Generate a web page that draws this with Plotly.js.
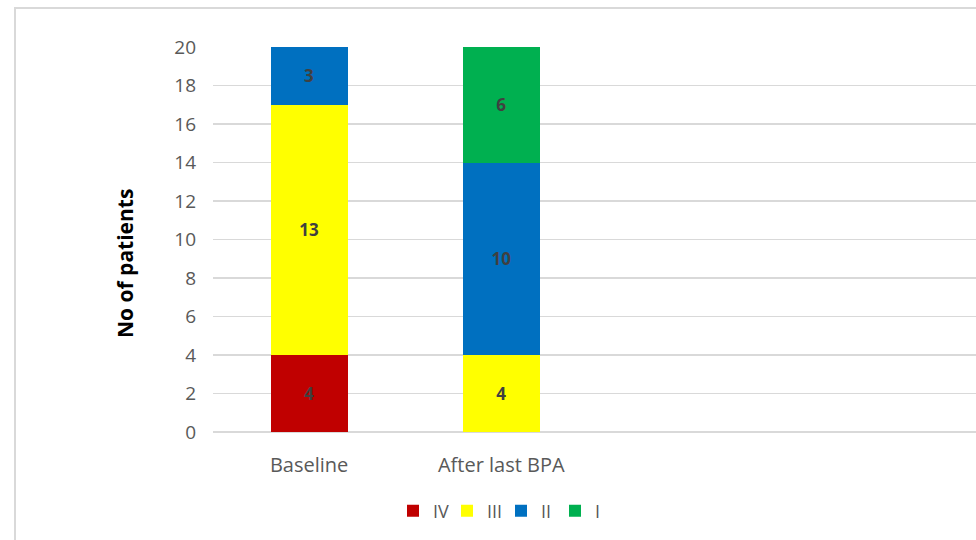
<!DOCTYPE html>
<html>
<head>
<meta charset="utf-8">
<script src="https://cdn.plot.ly/plotly-3.0.1.min.js"></script>
<style>
  html, body { margin: 0; padding: 0; background: #fff; }
  #wrap { position: relative; width: 976px; height: 540px; overflow: hidden; }
  #chart { width: 976px; height: 540px; }
  #frame { position: absolute; left: 14px; top: 7px; width: 1100px; height: 800px;
           border: 2px solid #d9d9d9; box-sizing: border-box; pointer-events: none; }
</style>
</head>
<body>
<div id="wrap">
  <div id="chart"></div>
  <div id="frame"></div>
</div>
<script>
const categories = ["Baseline", "After last BPA"];
const classIV  = [4, 0];
const classIII = [13, 4];
const classII  = [3, 10];
const classI   = [0, 6];
const seriesNames = ["IV", "III", "II", "I"];
const seriesColors = ["#C00000", "#FFFF00", "#0070C0", "#00B050"];
const yTicks = [0, 2, 4, 6, 8, 10, 12, 14, 16, 18, 20];
const yTitle = "No of patients";

const FONT = "'Open Sans', sans-serif";
const seriesValues = [classIV, classIII, classII, classI];

const traces = seriesValues.map((vals, i) => ({
  type: "bar",
  name: seriesNames[i],
  x: categories,
  y: vals,
  text: vals.map(v => v ? String(v) : ""),
  textposition: "inside",
  insidetextanchor: "middle",
  textangle: 0,
  textfont: { family: FONT, size: 17, color: "#404040", weight: "bold" },
  marker: { color: seriesColors[i], line: { width: 0 } },
  width: 0.4,
  hoverinfo: "skip"
}));

const layout = {
  width: 976,
  height: 540,
  margin: { l: 213, r: 0, t: 47, b: 108 },
  paper_bgcolor: "#ffffff",
  plot_bgcolor: "#ffffff",
  barmode: "stack",
  showlegend: true,
  font: { family: FONT, color: "#595959" },
  xaxis: {
    type: "category",
    categoryorder: "array",
    categoryarray: categories,
    range: [-0.5, 3.47],
    showgrid: false,
    zeroline: false,
    showline: false,
    ticks: "",
    ticklabelstandoff: 19,
    tickfont: { family: FONT, size: 20, color: "#595959" },
    fixedrange: true
  },
  yaxis: {
    range: [0, 20],
    tickvals: yTicks,
    ticktext: yTicks.map(String),
    showgrid: true,
    gridcolor: "#D9D9D9",
    gridwidth: 1.3,
    zeroline: true,
    zerolinecolor: "#D9D9D9",
    zerolinewidth: 1.3,
    showline: false,
    ticks: "",
    ticklabelstandoff: 16,
    tickfont: { family: FONT, size: 19, color: "#595959" },
    fixedrange: true
  },
  annotations: [{
    text: yTitle,
    xref: "paper", yref: "paper",
    x: (125 - 213) / 763, y: (432 - 264) / 385,
    xanchor: "center", yanchor: "middle",
    textangle: -90,
    showarrow: false,
    font: { family: FONT, size: 21, color: "#000000", weight: "bold" }
  }],
  legend: {
    orientation: "h",
    traceorder: "normal",
    x: (501 - 213) / 763,
    xanchor: "center",
    y: -0.205,
    yanchor: "middle",
    font: { family: FONT, size: 18, color: "#595959" },
    entrywidth: 9,
    itemwidth: 30,
    bgcolor: "rgba(0,0,0,0)"
  }
};

Plotly.newPlot("chart", traces, layout, { displayModeBar: false, staticPlot: true });
</script>
</body>
</html>
